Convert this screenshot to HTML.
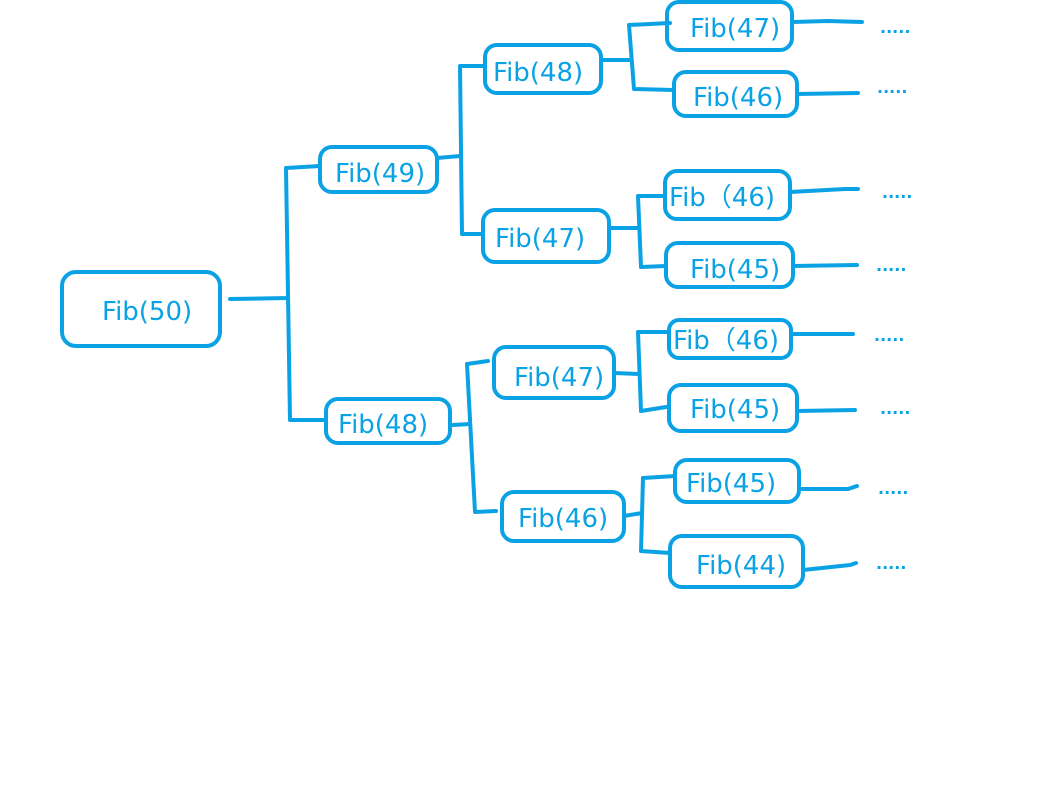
<!DOCTYPE html>
<html><head><meta charset="utf-8"><style>
html,body{margin:0;padding:0;background:#fff;}
svg{display:block}
text{font-family:"DejaVu Sans","Liberation Sans",sans-serif;fill:#0aa2e4;}
</style></head><body>
<svg width="1040" height="791" viewBox="0 0 1040 791" xmlns="http://www.w3.org/2000/svg">
<g fill="none" stroke="#0aa2e4" stroke-width="4" stroke-linecap="round" stroke-linejoin="round">
<!-- boxes -->
<rect x="62" y="272" width="158" height="74" rx="14"/>
<rect x="320" y="147" width="117" height="45" rx="12"/>
<rect x="326" y="399" width="124" height="44" rx="12"/>
<rect x="485" y="45" width="116" height="48" rx="12"/>
<rect x="483" y="210" width="126" height="52" rx="12"/>
<rect x="494" y="347" width="120" height="51" rx="12"/>
<rect x="502" y="492" width="122" height="49" rx="12"/>
<rect x="667" y="2" width="125" height="48" rx="12"/>
<rect x="674" y="72" width="123" height="44" rx="12"/>
<rect x="665" y="171" width="125" height="48" rx="12"/>
<rect x="666" y="243" width="127" height="44" rx="12"/>
<rect x="669" y="320" width="122" height="38" rx="10"/>
<rect x="669" y="385" width="128" height="46" rx="12"/>
<rect x="675" y="460" width="124" height="42" rx="12"/>
<rect x="670" y="536" width="133" height="51" rx="12"/>
<!-- connectors -->
<path d="M230,299 L288,298 M286,168 L290,420 M286,168 L320,166 M290,420 L326,420"/>
<path d="M437,158 L460,156 M460,66 L462,234 M460,66 L485,66 M462,234 L483,234"/>
<path d="M453,425 L470,424 M467,364 L475,512 M467,364 L488,361 M475,512 L496,511"/>
<path d="M601,60 L630,60 M629,25 L634,89 M629,25 L670,23 M634,89 L674,90"/>
<path d="M609,228 L638,228 M638,196 L641,267 M638,196 L665,196 M641,267 L666,266"/>
<path d="M614,373 L639,374 M638,332 L641,411 M638,332 L668,332 M641,411 L666,407"/>
<path d="M624,516 L642,513 M643,478 L641,551 M643,478 L675,476 M641,551 L670,553"/>
<path d="M792,22 L828,21 L862,22 M797,94 L858,93 M790,192 L845,189 L858,189 M793,266 L857,265"/>
<path d="M791,334 L853,334 M797,411 L855,410 M799,489 L848,489 L857,486 M803,570 L850,565 L856,563"/>
</g>
<g font-size="26">
<text x="102" y="320">Fib(50)</text>
<text x="335" y="182">Fib(49)</text>
<text x="338" y="433">Fib(48)</text>
<text x="493" y="81">Fib(48)</text>
<text x="495" y="247">Fib(47)</text>
<text x="514" y="386">Fib(47)</text>
<text x="518" y="527">Fib(46)</text>
<text x="690" y="37">Fib(47)</text>
<text x="693" y="106">Fib(46)</text>
<text x="669" y="206" xml:space="preserve">Fib（46)</text>
<text x="690" y="278">Fib(45)</text>
<text x="673" y="349" xml:space="preserve">Fib（46)</text>
<text x="690" y="418">Fib(45)</text>
<text x="686" y="492">Fib(45)</text>
<text x="696" y="574">Fib(44)</text>
</g>
<g font-size="16" font-weight="bold">
<text x="880" y="33">.....</text>
<text x="877" y="93">.....</text>
<text x="882" y="198">.....</text>
<text x="876" y="271">.....</text>
<text x="874" y="341">.....</text>
<text x="880" y="414">.....</text>
<text x="878" y="494">.....</text>
<text x="876" y="569">.....</text>
</g>
</svg>
</body></html>
